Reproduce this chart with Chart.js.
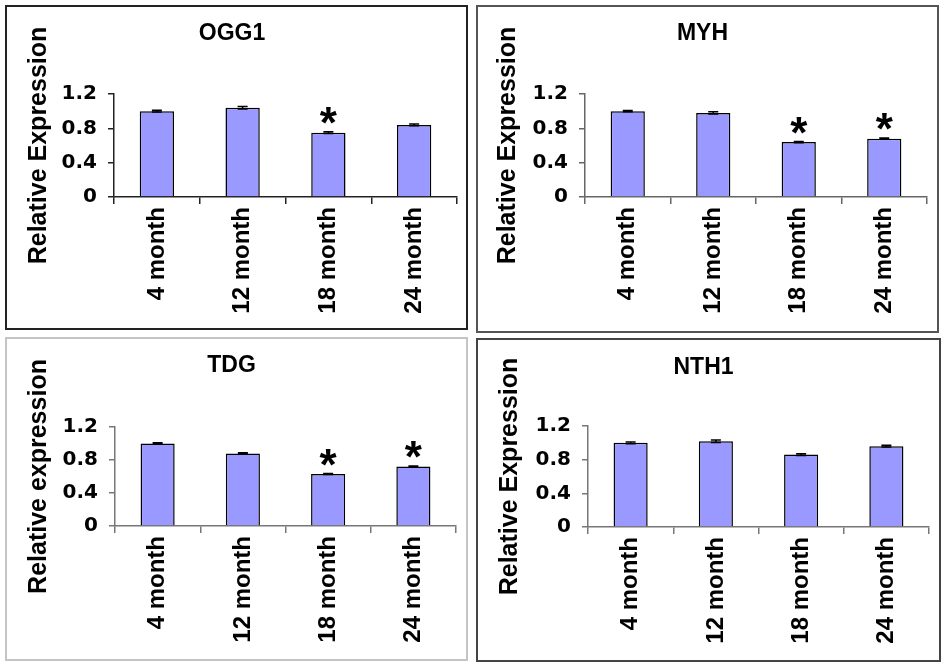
<!DOCTYPE html>
<html>
<head>
<meta charset="utf-8">
<script src="https://cdn.jsdelivr.net/npm/chart.js"></script>
<style>
  body { margin: 0; background: #fff; }
  .panel { position: absolute; box-sizing: border-box; border: 2px solid #222; background: #fff; }
  .panel canvas { display: block; }
</style>
</head>
<body>
<script>
// data
const months = ['4 month', '12 month', '18 month', '24 month'];
const genes = ['OGG1', 'MYH', 'TDG', 'NTH1'];
const axisTitles = ['Relative Expression', 'Relative Expression', 'Relative expression', 'Relative Expression'];
const yTicks = [0, 0.4, 0.8, 1.2];

const ogg1 = [1.0, 1.04, 0.75, 0.84];
const myh = [1.0, 0.98, 0.64, 0.68];
const tdg = [1.0, 0.88, 0.63, 0.72];
const nth1 = [1.0, 1.02, 0.86, 0.96];

const ogg1Err = [0.01, 0.015, 0.01, 0.01];
const myhErr = [0.008, 0.012, 0.008, 0.008];
const tdgErr = [0.008, 0.008, 0.005, 0.008];
const nth1Err = [0.01, 0.015, 0.01, 0.01];

const ogg1Stars = [false, false, true, false];
const myhStars = [false, false, true, true];
const tdgStars = [false, false, true, true];
const nth1Stars = [false, false, false, false];

const values = [ogg1, myh, tdg, nth1];
const errors = [ogg1Err, myhErr, tdgErr, nth1Err];
const stars = [ogg1Stars, myhStars, tdgStars, nth1Stars];

// panel boxes and plot areas (pixels)
const layout = [
  { box: [5, 5, 463, 325], border: '#222', axis: '#222', area: { left: 107, right: 450, top: 87, bottom: 190 }, titleY: 27, yTitleX: 32 },
  { box: [476, 5, 463, 328], border: '#555', axis: '#666', area: { left: 107, right: 449, top: 87, bottom: 190 }, titleY: 27, yTitleX: 30 },
  { box: [5, 337, 463, 324], border: '#c4c4c4', axis: '#777', area: { left: 108, right: 449, top: 88, bottom: 187 }, titleY: 27, yTitleX: 32 },
  { box: [476, 338, 465, 324], border: '#444', axis: '#777', area: { left: 110, right: 451, top: 86, bottom: 187 }, titleY: 28, yTitleX: 32 }
];

const FONT = '"Liberation Sans", Arial, sans-serif';

const marks = {
  id: 'marks',
  afterDatasetsDraw(chart) {
    const ctx = chart.ctx;
    const y = chart.scales.y;
    const ds = chart.data.datasets[0];
    const meta = chart.getDatasetMeta(0);
    ctx.save();
    ctx.strokeStyle = '#000';
    ctx.lineWidth = 1.5;
    meta.data.forEach((bar, j) => {
      const v = ds.data[j], e = ds.errors[j];
      const yTop = y.getPixelForValue(v + e);
      const yBot = y.getPixelForValue(v - e);
      ctx.beginPath();
      ctx.moveTo(bar.x, yTop); ctx.lineTo(bar.x, yBot);
      ctx.moveTo(bar.x - 5, yTop); ctx.lineTo(bar.x + 5, yTop);
      ctx.moveTo(bar.x - 5, yBot); ctx.lineTo(bar.x + 5, yBot);
      ctx.stroke();
      if (ds.stars[j]) {
        ctx.font = 'bold 44px ' + FONT;
        const m = ctx.measureText('*');
        const cy = yTop - 16;
        const base = cy + (m.actualBoundingBoxAscent - m.actualBoundingBoxDescent) / 2;
        ctx.textAlign = 'center';
        ctx.fillStyle = '#000';
        ctx.fillText('*', bar.x, base);
      }
    });
    ctx.restore();
  }
};

function makePanel(i) {
  const p = layout[i];
  const div = document.createElement('div');
  div.className = 'panel';
  div.style.left = p.box[0] + 'px';
  div.style.top = p.box[1] + 'px';
  div.style.width = p.box[2] + 'px';
  div.style.height = p.box[3] + 'px';
  div.style.borderColor = p.border;
  const W = p.box[2] - 4, H = p.box[3] - 4;
  const canvas = document.createElement('canvas');
  canvas.width = W; canvas.height = H;
  canvas.style.width = W + 'px'; canvas.style.height = H + 'px';
  div.appendChild(canvas);
  document.body.appendChild(div);

  const titleLH = 23 * 1.2;
  const yTitleLH = 25 * 1.2;

  new Chart(canvas, {
    type: 'bar',
    data: {
      labels: months,
      datasets: [{
        data: values[i],
        errors: errors[i],
        stars: stars[i],
        backgroundColor: '#9999ff',
        borderColor: '#000',
        borderWidth: 1.5,
        categoryPercentage: 1,
        barPercentage: 0.4
      }]
    },
    options: {
      responsive: false,
      animation: false,
      devicePixelRatio: 1,
      layout: { padding: { left: 0, top: 0, bottom: 0, right: W - p.area.right } },
      plugins: {
        legend: { display: false },
        tooltip: { enabled: false },
        title: {
          display: true,
          text: genes[i],
          color: '#000',
          font: { family: FONT, size: 23, weight: 'bold' },
          padding: { top: p.titleY - titleLH / 2, bottom: p.area.top - (p.titleY - titleLH / 2) - titleLH }
        }
      },
      scales: {
        x: {
          afterFit: s => { s.height = H - p.area.bottom; },
          grid: { offset: true, drawOnChartArea: false, drawTicks: true, tickLength: 7, color: p.axis, lineWidth: 1.5 },
          border: { color: p.axis, width: 1.5 },
          ticks: {
            minRotation: 90, maxRotation: 90, autoSkip: false, padding: 3,
            color: '#000',
            font: { family: FONT, size: 24, weight: 'bold' }
          }
        },
        y: {
          min: 0,
          max: 1.2,
          afterFit: s => { s.width = p.area.left; },
          afterBuildTicks: s => { s.ticks = yTicks.map(v => ({ value: v })); },
          grid: { drawOnChartArea: false, drawTicks: true, tickLength: 6, color: p.axis, lineWidth: 1.5 },
          border: { color: p.axis, width: 1.5 },
          ticks: {
            padding: 11,
            color: '#000',
            font: { family: '"DejaVu Sans"', size: 20, weight: 'bold' },
            callback: v => v === 0 ? '0' : Number(v).toFixed(1)
          },
          title: {
            display: true,
            text: axisTitles[i],
            color: '#000',
            font: { family: FONT, size: 25, weight: 'bold' },
            padding: { top: p.yTitleX - yTitleLH / 2, bottom: 0 }
          }
        }
      }
    },
    plugins: [marks]
  });
}

for (let i = 0; i < genes.length; i++) makePanel(i);
</script>
</body>
</html>
